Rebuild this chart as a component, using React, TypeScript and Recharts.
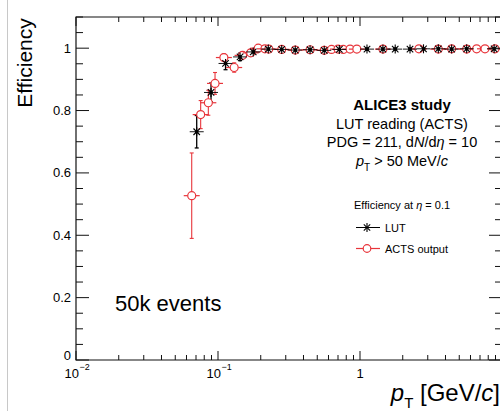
import React from 'react';
import { ScatterChart, Scatter, XAxis, YAxis, ErrorBar, ReferenceArea } from 'recharts';

// ---- data ----
const LUT_PT = [0.0708, 0.0893, 0.113, 0.143, 0.177, 0.226, 0.281, 0.35, 0.445, 0.56, 0.715, 1.12, 1.45, 1.77, 2.25, 2.8, 3.56, 4.42, 5.64, 8.8];
const LUT_EFF = [0.732, 0.858, 0.951, 0.972, 0.988, 0.997, 0.996, 0.994, 0.995, 0.993, 0.996, 0.997, 0.997, 0.997, 0.997, 0.998, 0.998, 0.997, 0.998, 0.998];
const LUT_ERR = [0.052, 0.03, 0.02, 0.012, 0.008, 0.005, 0.004, 0.004, 0.003, 0.003, 0.003, 0.003, 0.003, 0.003, 0.003, 0.002, 0.002, 0.002, 0.002, 0.002];

const ACTS_PT = [0.0653, 0.0755, 0.0855, 0.0953, 0.11, 0.13, 0.149, 0.17, 0.192, 0.214, 0.228, 0.281, 0.35, 0.445, 0.56, 0.63, 0.7, 0.762, 0.851, 0.95, 1.45, 2.6, 3.56, 4.42, 5.64, 6.63, 7.59, 8.93];
const ACTS_EFF = [0.527, 0.787, 0.825, 0.887, 0.97, 0.938, 0.977, 0.985, 1.0, 0.998, 0.997, 0.996, 0.994, 0.995, 0.993, 0.996, 0.997, 0.996, 0.997, 0.997, 0.997, 0.998, 0.997, 0.998, 0.997, 0.998, 0.998, 0.998];
const ACTS_ERR = [0.137, 0.045, 0.04, 0.035, 0.012, 0.015, 0.01, 0.008, 0.005, 0.005, 0.005, 0.004, 0.004, 0.004, 0.003, 0.003, 0.003, 0.003, 0.003, 0.003, 0.003, 0.002, 0.002, 0.002, 0.002, 0.002, 0.002, 0.002];

const X_TICKS = [0.01, 0.02, 0.03, 0.04, 0.05, 0.06, 0.07, 0.08, 0.09, 0.1, 0.2, 0.3, 0.4, 0.5, 0.6, 0.7, 0.8, 0.9, 1, 2, 3, 4, 5, 6, 7, 8, 9, 10];
const X_MAJOR = [0.01, 0.1, 1, 10];
const X_LABELS = [
  { v: 0.01, base: '10', exp: '\u22122' },
  { v: 0.1, base: '10', exp: '\u22121' },
  { v: 1, base: '1', exp: '' },
];
const Y_TICKS = [0, 0.05, 0.1, 0.15, 0.2, 0.25, 0.3, 0.35, 0.4, 0.45, 0.5, 0.55, 0.6, 0.65, 0.7, 0.75, 0.8, 0.85, 0.9, 0.95, 1, 1.05, 1.1];
const Y_LABELS = [0, 0.2, 0.4, 0.6, 0.8, 1];

const lutData = LUT_PT.map((pt, i) => ({ pt, eff: LUT_EFF[i], err: LUT_ERR[i] }));
const actsData = ACTS_PT.map((pt, i) => ({ pt, eff: ACTS_EFF[i], err: ACTS_ERR[i] }));

// ---- layout ----
const FONT = '"Liberation Sans", Arial, Helvetica, sans-serif';
const RED = '#e8353b';
const PLOT_L = 76;
const PLOT_T = 17;
const PLOT_B = 360;
const CW = 504;
const CH = 411;
const PLOT_R = 502;
const PLOT_W = PLOT_R - PLOT_L;
const PLOT_H = PLOT_B - PLOT_T;
const M = { top: PLOT_T, right: CW - PLOT_R, bottom: CH - PLOT_B - 1, left: PLOT_L - 1 };

const near = (a: number, b: number) => Math.abs(a - b) < 1e-9;

const renderXTick = (props: any) => {
  const { x, payload } = props;
  const y = PLOT_B;
  const v = payload.value;
  const major = X_MAJOR.some((m) => near(m, v));
  const len = major ? 9 : 5;
  const top = PLOT_T;
  const lab = X_LABELS.find((l) => near(l.v, v));
  return (
    <g key={`xt-${v}`}>
      <line x1={x} x2={x} y1={y} y2={y - len} stroke="#111" strokeWidth={1} />
      <line x1={x} x2={x} y1={top} y2={top + len} stroke="#111" strokeWidth={1} />
      {lab && lab.exp ? (
        <g fontFamily={FONT} fill="#000">
          <text x={x + 3} y={y + 18} textAnchor="end" fontSize={13}>{lab.base}</text>
          <text x={x + 3.5} y={y + 10} textAnchor="start" fontSize={9}>{lab.exp}</text>
        </g>
      ) : null}
      {lab && !lab.exp ? (
        <text x={x} y={y + 18} textAnchor="middle" fontSize={13} fontFamily={FONT} fill="#000">{lab.base}</text>
      ) : null}
    </g>
  );
};

const renderYTick = (props: any) => {
  const { y, payload } = props;
  const x = PLOT_L;
  const v = payload.value;
  const major = Y_LABELS.some((m) => near(m, v));
  const len = major ? 13 : 7;
  const right = PLOT_R;
  return (
    <g key={`yt-${v}`}>
      <line x1={x} x2={x + len} y1={y} y2={y} stroke="#111" strokeWidth={1} />
      <line x1={right} x2={right - len} y1={y} y2={y} stroke="#111" strokeWidth={1} />
      {major ? (
        <text x={x - 5} y={near(v, 0) ? y : y + 4.5} textAnchor="end" fontSize={13} fontFamily={FONT} fill="#000">
          {String(v)}
        </text>
      ) : null}
    </g>
  );
};

const Star = (props: any) => {
  const { cx, cy } = props;
  if (cx == null || cy == null) return null;
  const r = 4.5;
  const d = r * 0.72;
  return (
    <g stroke="#000" strokeWidth={1.1}>
      <line x1={cx - 7} x2={cx + 7} y1={cy} y2={cy} strokeWidth={0.9} />
      <line x1={cx} x2={cx} y1={cy - r} y2={cy + r} />
      <line x1={cx - d} x2={cx + d} y1={cy - d} y2={cy + d} />
      <line x1={cx - d} x2={cx + d} y1={cy + d} y2={cy - d} />
      <circle cx={cx} cy={cy} r={1.3} fill="#000" />
    </g>
  );
};

const Circ = (props: any) => {
  const { cx, cy } = props;
  if (cx == null || cy == null) return null;
  return (
    <g stroke={RED} strokeWidth={1.2}>
      <line x1={cx - 8} x2={cx - 4} y1={cy} y2={cy} />
      <line x1={cx + 4} x2={cx + 8} y1={cy} y2={cy} />
      <circle cx={cx} cy={cy} r={4} fill="#fff" />
    </g>
  );
};

export default function App() {
  return (
    <div style={{ position: 'absolute', left: 0, top: 0, width: 500, height: 411, overflow: 'hidden', background: '#fff' }}>
      <ScatterChart width={CW} height={CH} margin={M}>
        <XAxis
          dataKey="pt"
          type="number"
          scale="log"
          domain={[0.01, 10]}
          allowDataOverflow
          ticks={X_TICKS}
          interval={0}
          tickSize={0}
          tickMargin={0}
          height={1}
          axisLine={false}
          tickLine={false}
          tick={renderXTick}
        />
        <YAxis
          dataKey="eff"
          type="number"
          domain={[0, 1.1]}
          allowDataOverflow
          ticks={Y_TICKS}
          interval={0}
          tickSize={0}
          tickMargin={0}
          width={1}
          axisLine={false}
          tickLine={false}
          tick={renderYTick}
        />
        <ReferenceArea x1={0.01} x2={10} y1={0} y2={1.1} fill="none" stroke="#111" strokeWidth={1.2} ifOverflow="visible" />
        <Scatter data={actsData} isAnimationActive={false} shape={<Circ />}>
          <ErrorBar dataKey="err" direction="y" width={2} stroke={RED} strokeWidth={1.1} />
        </Scatter>
        <Scatter data={lutData} isAnimationActive={false} shape={<Star />}>
          <ErrorBar dataKey="err" direction="y" width={2} stroke="#000" strokeWidth={1.3} />
        </Scatter>
      </ScatterChart>
      <svg width={500} height={411} style={{ position: 'absolute', left: 0, top: 0, pointerEvents: 'none' }} fontFamily={FONT}>
        <line x1={7.5} x2={7.5} y1={0} y2={411} stroke="#c8c8c8" strokeWidth={1} />
        <text transform="rotate(-90)" x={-63} y={31.5} textAnchor="middle" fontSize={21} fill="#000">Efficiency</text>
        <text x={500} y={401} textAnchor="end" fontSize={24} fill="#000">
          <tspan fontStyle="italic">p</tspan>
          <tspan fontSize={15} dy={7}>T</tspan>
          <tspan dy={-7}> [GeV/</tspan>
          <tspan fontStyle="italic">c</tspan>
          <tspan>]</tspan>
        </text>
        <text x={115} y={311} fontSize={22} fill="#000">50k events</text>
        <g textAnchor="middle" fill="#000">
          <text x={402} y={110} fontSize={15} fontWeight="bold">ALICE3 study</text>
          <text x={402} y={128.5} fontSize={14.5}>LUT reading (ACTS)</text>
          <text x={402} y={147} fontSize={14.5}>
            PDG = 211, d<tspan fontStyle="italic">N</tspan>/d<tspan fontStyle="italic">η</tspan> = 10
          </text>
          <text x={402} y={166} fontSize={14.5}>
            <tspan fontStyle="italic">p</tspan>
            <tspan fontSize={10} dy={5}>T</tspan>
            <tspan dy={-5}> &gt; 50 MeV/</tspan>
            <tspan fontStyle="italic">c</tspan>
          </text>
        </g>
        <g fill="#000">
          <text x={354} y={209} fontSize={11}>
            Efficiency at <tspan fontStyle="italic">η</tspan> = 0.1
          </text>
          <line x1={356} x2={380} y1={227.5} y2={227.5} stroke="#000" strokeWidth={1} />
          <g stroke="#000" strokeWidth={1.1}>
            <line x1={367} x2={367} y1={223} y2={232} />
            <line x1={363.8} x2={370.2} y1={224.3} y2={230.7} />
            <line x1={363.8} x2={370.2} y1={230.7} y2={224.3} />
          </g>
          <text x={385} y={232} fontSize={11}>LUT</text>
          <line x1={356} x2={380} y1={248.5} y2={248.5} stroke={RED} strokeWidth={1.2} />
          <circle cx={367} cy={248.5} r={3.8} fill="#fff" stroke={RED} strokeWidth={1.2} />
          <text x={385} y={253} fontSize={11}>ACTS output</text>
        </g>
      </svg>
    </div>
  );
}
